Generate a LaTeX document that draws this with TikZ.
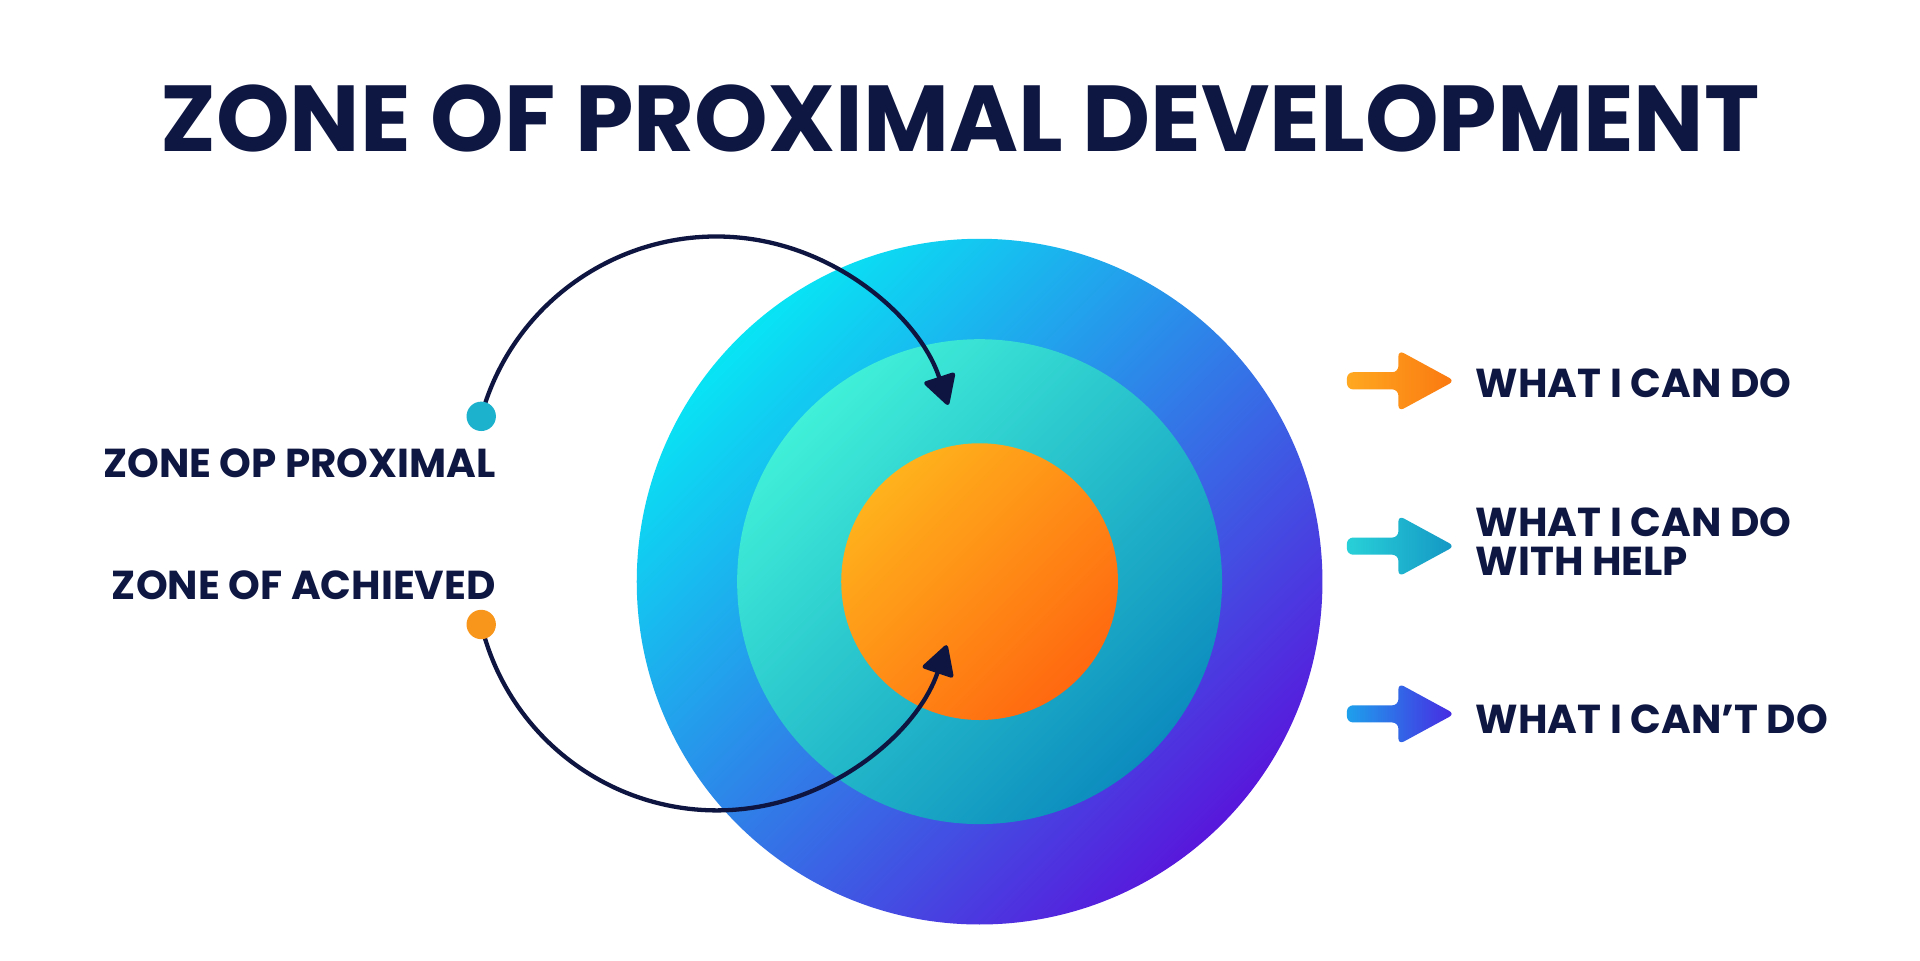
\documentclass[tikz,border=0pt]{standalone}
\usepackage{fontspec}
\setmainfont{Poppins}[UprightFont=* Bold]
\usetikzlibrary{arrows.meta}
\definecolor{navy}{HTML}{0E1642}
\definecolor{arcc}{HTML}{0E1540}
\definecolor{oA}{HTML}{08E4F4}\definecolor{oM}{HTML}{288CE8}\definecolor{oB}{HTML}{5818DC}
\definecolor{mA}{HTML}{40F0D8}\definecolor{mB}{HTML}{0C8CBE}
\definecolor{iA}{HTML}{FFB21C}\definecolor{iB}{HTML}{FF6810}
\definecolor{dotT}{HTML}{1CB2CE}\definecolor{dotO}{HTML}{F8961C}
\definecolor{a1A}{HTML}{FFA820}\definecolor{a1B}{HTML}{FA7810}
\definecolor{a2A}{HTML}{28D0D8}\definecolor{a2B}{HTML}{1496C4}
\definecolor{a3A}{HTML}{1EA0EC}\definecolor{a3B}{HTML}{4828E2}
\tikzset{
  lbl/.style={text=navy,font=\fontsize{33}{36}\selectfont,inner sep=0},
  leg/.style={text=navy,font=\fontsize{33}{38}\selectfont,inner sep=0,anchor=west,align=left},
  arcline/.style={draw=arcc,line width=3.5,-{Triangle[round,length=26,width=28]}},
}
\begin{document}
\begin{tikzpicture}[x=1pt,y=-1pt]
\useasboundingbox (0,0) rectangle (1568,784);
\fill[white] (0,0) rectangle (1568,784);
\node[text=navy,font=\fontsize{76.5}{80}\selectfont,inner sep=0] (title) at (784,97) {ZONE OF PROXIMAL DEVELOPMENT};
% circles
\shade[top color=oA,middle color=oM,bottom color=oB,shading angle=45] (800,475) circle[radius=280];
\shade[top color=mA,bottom color=mB,shading angle=45] (800,475) circle[radius=198];
\shade[top color=iA,bottom color=iB,shading angle=45] (800,475) circle[radius=113];
\node[circle,minimum size=226,inner sep=0] (core) at (800,475) {};
% arcs
\coordinate (d1) at (393,340);
\coordinate (d2) at (393,510);
\draw[arcline] (d1) arc[start angle=-164.8,end angle=-18,radius=199] coordinate (e1);
\draw[arcline] (d2) arc[start angle=166.5,end angle=18.6,radius=198] coordinate (e2);
\fill[dotT] (d1) circle[radius=12];
\fill[dotO] (d2) circle[radius=12];
\node[lbl,anchor=east] (l1) at (405,378) {ZONE OP PROXIMAL};
\node[lbl,anchor=east] (l2) at (405,478) {ZONE OF ACHIEVED};
% legend arrows
\foreach \yy/\ca/\cb/\nm in {311/a1A/a1B/a1, 446/a2A/a2B/a2, 583/a3A/a3B/a3}{
  \shade[left color=\ca,right color=\cb,rounded corners=5]
    (1100,\yy-7) -- (1142,\yy-7) -- (1142,\yy-25) -- (1188,\yy) -- (1142,\yy+25) -- (1142,\yy+7) -- (1100,\yy+7) -- cycle;
  \coordinate (\nm) at (1190,\yy);
}
\node[leg] (t1) at (1205,313) {WHAT I CAN DO};
\node[leg] (t2) at (1205,442) {WHAT I CAN DO\\[-6pt]WITH HELP};
\node[leg] (t3) at (1205,587) {WHAT I CAN’T DO};
\end{tikzpicture}
\end{document}
